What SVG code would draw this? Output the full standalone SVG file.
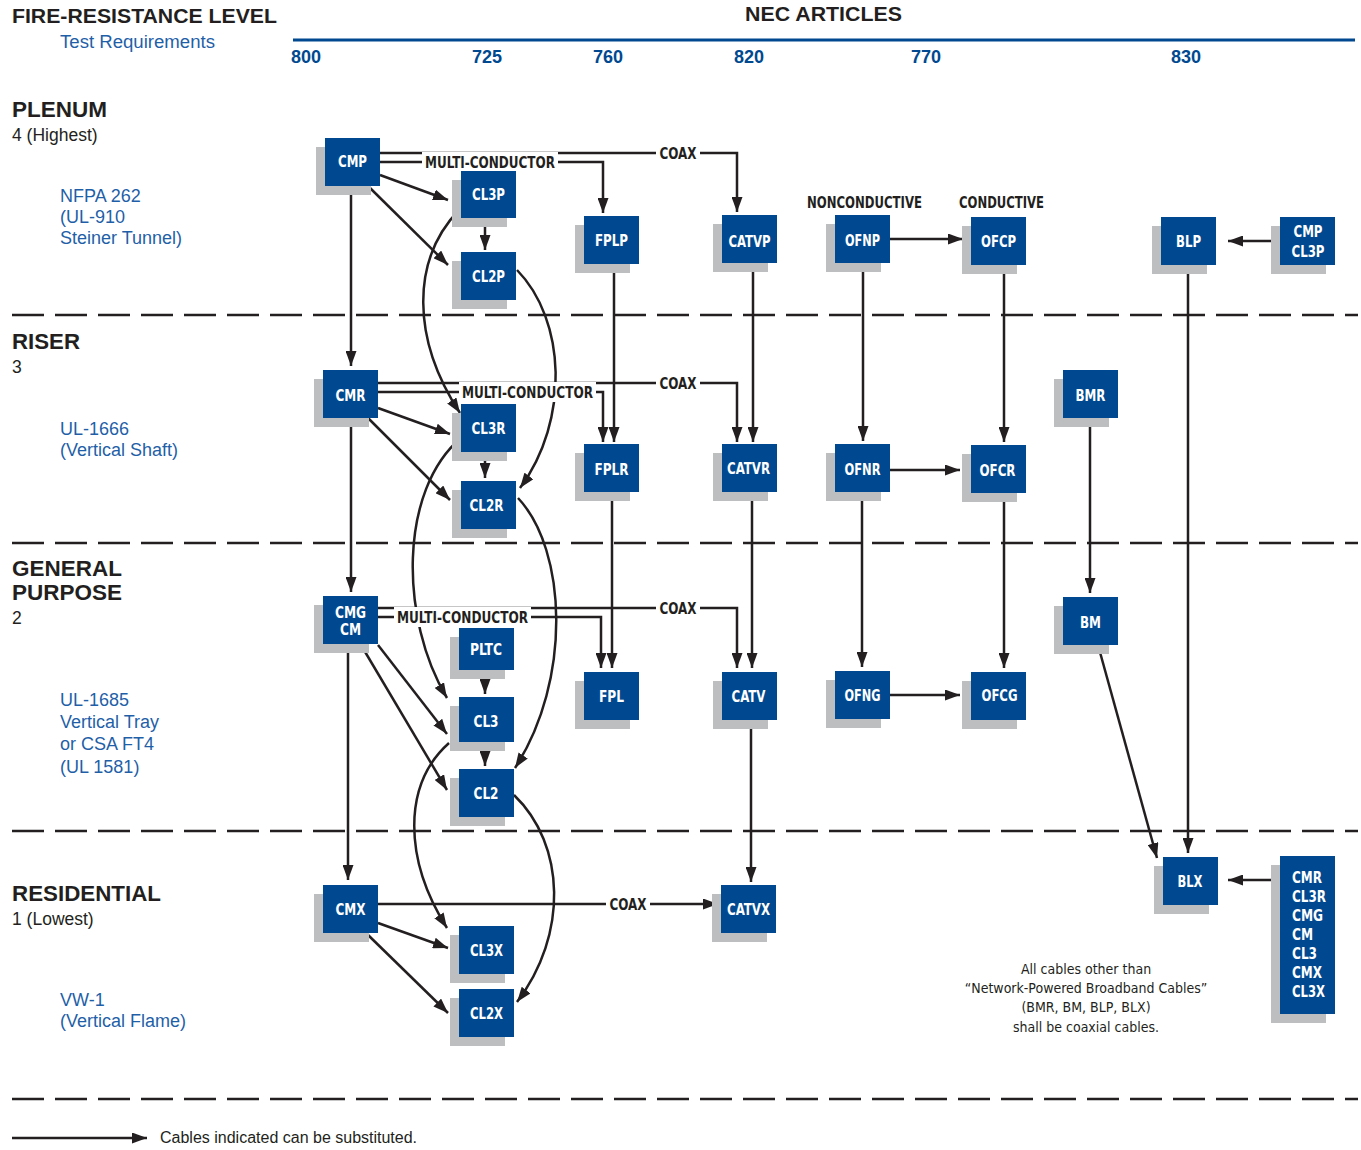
<svg xmlns="http://www.w3.org/2000/svg" width="1361" height="1150" viewBox="0 0 1361 1150">
<defs>
<marker id="ah" markerUnits="userSpaceOnUse" markerWidth="15" markerHeight="11" refX="15" refY="5.5" orient="auto">
<path d="M0,0 L15,5.5 L0,11 Z" fill="#231f20"/>
</marker>
<style>
.sh{fill:#bcbec0}
.bx{fill:#004990}
.bt{font-family:"Liberation Sans Narrow","DejaVu Sans Condensed","Liberation Sans",sans-serif;font-weight:bold;font-size:16px;fill:#fff;text-anchor:middle}
.bts{font-family:"Liberation Sans Narrow","DejaVu Sans Condensed","Liberation Sans",sans-serif;font-weight:bold;font-size:16px;fill:#fff;text-anchor:start}
.ar{fill:none;stroke:#231f20;stroke-width:2.5;marker-end:url(#ah)}
.dash{fill:none;stroke:#231f20;stroke-width:2.5;stroke-dasharray:32 11}
.lbl{font-family:"Liberation Sans Narrow","DejaVu Sans Condensed","Liberation Sans",sans-serif;font-weight:bold;font-size:15.5px;fill:#231f20;text-anchor:middle}
.h1{font-family:"Liberation Sans",Arial,sans-serif;font-weight:bold;font-size:21px;fill:#231f20}
.h3{font-family:"Liberation Sans",Arial,sans-serif;font-weight:bold;font-size:22px;fill:#231f20}
.h2{font-family:"Liberation Sans",Arial,sans-serif;font-size:17.5px;fill:#231f20}
.bl{font-family:"Liberation Sans",Arial,sans-serif;font-size:18px;fill:#1f5fa8}
.col{font-family:"Liberation Sans",Arial,sans-serif;font-weight:bold;font-size:18px;fill:#004990;text-anchor:middle}
.note{font-family:"Liberation Sans Narrow","DejaVu Sans Condensed","Liberation Sans",sans-serif;font-size:14px;fill:#231f20;text-anchor:middle}
</style>
</defs>
<rect width="1361" height="1150" fill="#fff"/>

<g id="header">
<text class="h1" x="12" y="23" textLength="265" lengthAdjust="spacingAndGlyphs">FIRE-RESISTANCE LEVEL</text>
<text class="bl" x="60" y="48" textLength="155" lengthAdjust="spacingAndGlyphs">Test Requirements</text>
<text class="h1" x="745" y="21" textLength="157" lengthAdjust="spacingAndGlyphs">NEC ARTICLES</text>
<line x1="293" y1="40" x2="1355" y2="40" stroke="#004990" stroke-width="3"/>
<text class="col" x="306" y="63">800</text>
<text class="col" x="487" y="63">725</text>
<text class="col" x="608" y="63">760</text>
<text class="col" x="749" y="63">820</text>
<text class="col" x="926" y="63">770</text>
<text class="col" x="1186" y="63">830</text>
</g>

<g id="levels">
<text class="h3" x="12" y="117" textLength="95" lengthAdjust="spacingAndGlyphs">PLENUM</text>
<text class="h2" x="12" y="141">4 (Highest)</text>
<text class="bl" x="60" y="202">NFPA 262</text>
<text class="bl" x="60" y="223">(UL-910</text>
<text class="bl" x="60" y="244">Steiner Tunnel)</text>
<text class="h3" x="12" y="349" textLength="68" lengthAdjust="spacingAndGlyphs">RISER</text>
<text class="h2" x="12" y="373">3</text>
<text class="bl" x="60" y="435">UL-1666</text>
<text class="bl" x="60" y="456">(Vertical Shaft)</text>
<text class="h3" x="12" y="576" font-size="20" textLength="110" lengthAdjust="spacingAndGlyphs">GENERAL</text>
<text class="h3" x="12" y="600" font-size="20" textLength="110" lengthAdjust="spacingAndGlyphs">PURPOSE</text>
<text class="h2" x="12" y="624">2</text>
<text class="bl" x="60" y="706">UL-1685</text>
<text class="bl" x="60" y="728">Vertical Tray</text>
<text class="bl" x="60" y="750">or CSA FT4</text>
<text class="bl" x="60" y="773">(UL 1581)</text>
<text class="h3" x="12" y="901" textLength="149" lengthAdjust="spacingAndGlyphs">RESIDENTIAL</text>
<text class="h2" x="12" y="925">1 (Lowest)</text>
<text class="bl" x="60" y="1006">VW-1</text>
<text class="bl" x="60" y="1027">(Vertical Flame)</text>
</g>

<g id="dividers">
<line class="dash" x1="12" y1="315" x2="1358" y2="315"/>
<line class="dash" x1="12" y1="543" x2="1358" y2="543"/>
<line class="dash" x1="12" y1="831" x2="1358" y2="831"/>
<line class="dash" x1="12" y1="1099" x2="1358" y2="1099"/>
</g>

<g id="connectors">
<path class="ar" d="M380,153 H737 V212"/>
<path class="ar" d="M380,162 H603 V213"/>
<path class="ar" d="M380,175 L448,200"/>
<path class="ar" d="M368,186 L448,265"/>
<path class="ar" d="M485,218 V250"/>
<path class="ar" d="M351,186 V366"/>
<path class="ar" d="M460,209 C410,260 412,340 460,413"/>
<path class="ar" d="M517,270 C566,320 570,420 520,488"/>
<path class="ar" d="M890,239 H963"/>
<path class="ar" d="M1280,241 H1228"/>
<path class="ar" d="M614,264 V442"/>
<path class="ar" d="M753,263 V442"/>
<path class="ar" d="M863,263 V441"/>
<path class="ar" d="M1004,265 V442"/>
<path class="ar" d="M1188,265 V853"/>
<path class="ar" d="M378,383 H737 V442"/>
<path class="ar" d="M378,392 H603 V442"/>
<path class="ar" d="M378,408 L450,434"/>
<path class="ar" d="M368,418 L450,500"/>
<path class="ar" d="M485,452 V478"/>
<path class="ar" d="M351,418 V592"/>
<path class="ar" d="M462,437 C398,490 400,620 447,698"/>
<path class="ar" d="M518,498 C567,550 572,680 515,768"/>
<path class="ar" d="M890,470 H960"/>
<path class="ar" d="M612,492 V668"/>
<path class="ar" d="M752,492 V668"/>
<path class="ar" d="M862,492 V667"/>
<path class="ar" d="M1004,493 V668"/>
<path class="ar" d="M1090,418 V593"/>
<path class="ar" d="M378,608 H737 V668"/>
<path class="ar" d="M378,617 H601 V668"/>
<path class="ar" d="M378,645 L447,734"/>
<path class="ar" d="M361,645 L447,790"/>
<path class="ar" d="M485,670 V694"/>
<path class="ar" d="M485,742 V766"/>
<path class="ar" d="M348,644 V880"/>
<path class="ar" d="M449,743 C402,785 404,860 447,928"/>
<path class="ar" d="M514,795 C566,845 568,935 517,1002"/>
<path class="ar" d="M890,695 H960"/>
<path class="ar" d="M751,720 V882"/>
<path class="ar" d="M1098,645 L1157,858"/>
<path class="ar" d="M378,904 H718"/>
<path class="ar" d="M378,923 L448,948"/>
<path class="ar" d="M366,933 L448,1013"/>
<path class="ar" d="M1280,880 H1228"/>
</g>

<g id="route-labels">
<rect x="656" y="143" width="44" height="20" fill="#fff"/>
<text class="lbl" x="678" y="159" textLength="37" lengthAdjust="spacingAndGlyphs">COAX</text>
<rect x="422" y="152" width="136" height="20" fill="#fff"/>
<text class="lbl" x="490" y="168" textLength="130" lengthAdjust="spacingAndGlyphs">MULTI-CONDUCTOR</text>
<rect x="656" y="373" width="44" height="20" fill="#fff"/>
<text class="lbl" x="678" y="389" textLength="37" lengthAdjust="spacingAndGlyphs">COAX</text>
<rect x="459" y="382" width="137" height="20" fill="#fff"/>
<text class="lbl" x="527.5" y="398" textLength="131" lengthAdjust="spacingAndGlyphs">MULTI-CONDUCTOR</text>
<rect x="656" y="598" width="44" height="20" fill="#fff"/>
<text class="lbl" x="678" y="614" textLength="37" lengthAdjust="spacingAndGlyphs">COAX</text>
<rect x="394" y="607" width="137" height="20" fill="#fff"/>
<text class="lbl" x="462.5" y="623" textLength="131" lengthAdjust="spacingAndGlyphs">MULTI-CONDUCTOR</text>
<rect x="606" y="894" width="44" height="20" fill="#fff"/>
<text class="lbl" x="628" y="910" textLength="37" lengthAdjust="spacingAndGlyphs">COAX</text>
<text class="lbl" x="864.5" y="208" textLength="115" lengthAdjust="spacingAndGlyphs">NONCONDUCTIVE</text>
<text class="lbl" x="1001.5" y="208" textLength="85" lengthAdjust="spacingAndGlyphs">CONDUCTIVE</text>
</g>

<g id="CMP"><rect class="sh" x="316" y="147" width="55" height="48"/><rect class="bx" x="325" y="138" width="55" height="48"/><text class="bt" x="352.5" y="167" textLength="29" lengthAdjust="spacingAndGlyphs">CMP</text></g>
<g id="CL3P"><rect class="sh" x="452" y="180" width="55" height="47"/><rect class="bx" x="461" y="171" width="55" height="47"/><text class="bt" x="488.5" y="200" textLength="33" lengthAdjust="spacingAndGlyphs">CL3P</text></g>
<g id="CL2P"><rect class="sh" x="452" y="261" width="55" height="48"/><rect class="bx" x="461" y="252" width="55" height="48"/><text class="bt" x="488.5" y="282" textLength="33" lengthAdjust="spacingAndGlyphs">CL2P</text></g>
<g id="FPLP"><rect class="sh" x="575" y="225" width="55" height="48"/><rect class="bx" x="584" y="216" width="55" height="48"/><text class="bt" x="611.5" y="246" textLength="33" lengthAdjust="spacingAndGlyphs">FPLP</text></g>
<g id="CATVP"><rect class="sh" x="713" y="224" width="55" height="48"/><rect class="bx" x="722" y="215" width="55" height="48"/><text class="bt" x="749.5" y="247" textLength="42" lengthAdjust="spacingAndGlyphs">CATVP</text></g>
<g id="OFNP"><rect class="sh" x="826" y="224" width="55" height="48"/><rect class="bx" x="835" y="215" width="55" height="48"/><text class="bt" x="862.5" y="246" textLength="35" lengthAdjust="spacingAndGlyphs">OFNP</text></g>
<g id="OFCP"><rect class="sh" x="962" y="226" width="55" height="48"/><rect class="bx" x="971" y="217" width="55" height="48"/><text class="bt" x="998.5" y="247" textLength="35" lengthAdjust="spacingAndGlyphs">OFCP</text></g>
<g id="BLP"><rect class="sh" x="1152" y="226" width="55" height="48"/><rect class="bx" x="1161" y="217" width="55" height="48"/><text class="bt" x="1188.5" y="247" textLength="25" lengthAdjust="spacingAndGlyphs">BLP</text></g>
<g id="CMP-CL3P"><rect class="sh" x="1271" y="226" width="55" height="48"/><rect class="bx" x="1280" y="217" width="55" height="48"/><text class="bt" x="1308" y="237" textLength="29" lengthAdjust="spacingAndGlyphs">CMP</text><text class="bt" x="1308" y="257" textLength="33" lengthAdjust="spacingAndGlyphs">CL3P</text></g>

<g id="CMR"><rect class="sh" x="314" y="379" width="55" height="48"/><rect class="bx" x="323" y="370" width="55" height="48"/><text class="bt" x="350.5" y="401" textLength="30" lengthAdjust="spacingAndGlyphs">CMR</text></g>
<g id="CL3R"><rect class="sh" x="452" y="413" width="55" height="48"/><rect class="bx" x="461" y="404" width="55" height="48"/><text class="bt" x="488.5" y="434" textLength="34" lengthAdjust="spacingAndGlyphs">CL3R</text></g>
<g id="CL2R"><rect class="sh" x="452" y="490" width="55" height="48"/><rect class="bx" x="461" y="481" width="55" height="48"/><text class="bt" x="486.5" y="511" textLength="34" lengthAdjust="spacingAndGlyphs">CL2R</text></g>
<g id="FPLR"><rect class="sh" x="575" y="453" width="55" height="48"/><rect class="bx" x="584" y="444" width="55" height="48"/><text class="bt" x="611.5" y="475" textLength="34" lengthAdjust="spacingAndGlyphs">FPLR</text></g>
<g id="CATVR"><rect class="sh" x="713" y="453" width="55" height="48"/><rect class="bx" x="722" y="444" width="55" height="48"/><text class="bt" x="748.5" y="474" textLength="43" lengthAdjust="spacingAndGlyphs">CATVR</text></g>
<g id="OFNR"><rect class="sh" x="826" y="453" width="55" height="48"/><rect class="bx" x="835" y="444" width="55" height="48"/><text class="bt" x="862.5" y="475" textLength="36" lengthAdjust="spacingAndGlyphs">OFNR</text></g>
<g id="OFCR"><rect class="sh" x="962" y="454" width="55" height="48"/><rect class="bx" x="971" y="445" width="55" height="48"/><text class="bt" x="997.5" y="476" textLength="36" lengthAdjust="spacingAndGlyphs">OFCR</text></g>
<g id="BMR"><rect class="sh" x="1054" y="379" width="55" height="48"/><rect class="bx" x="1063" y="370" width="55" height="48"/><text class="bt" x="1090.5" y="401" textLength="30" lengthAdjust="spacingAndGlyphs">BMR</text></g>

<g id="CMG-CM"><rect class="sh" x="314" y="605" width="55" height="48"/><rect class="bx" x="323" y="596" width="55" height="48"/><text class="bt" x="350.5" y="618" font-size="14" textLength="31" lengthAdjust="spacingAndGlyphs">CMG</text><text class="bt" x="350.5" y="635" font-size="14" textLength="21" lengthAdjust="spacingAndGlyphs">CM</text></g>
<g id="PLTC"><rect class="sh" x="450" y="637" width="55" height="42"/><rect class="bx" x="459" y="628" width="55" height="42"/><text class="bt" x="486" y="655" textLength="32" lengthAdjust="spacingAndGlyphs">PLTC</text></g>
<g id="CL3"><rect class="sh" x="450" y="706" width="55" height="45"/><rect class="bx" x="459" y="697" width="55" height="45"/><text class="bt" x="486" y="727" textLength="25" lengthAdjust="spacingAndGlyphs">CL3</text></g>
<g id="CL2"><rect class="sh" x="450" y="778" width="55" height="48"/><rect class="bx" x="459" y="769" width="55" height="48"/><text class="bt" x="486" y="799" textLength="25" lengthAdjust="spacingAndGlyphs">CL2</text></g>
<g id="FPL"><rect class="sh" x="575" y="681" width="55" height="48"/><rect class="bx" x="584" y="672" width="55" height="48"/><text class="bt" x="611.5" y="702" textLength="25" lengthAdjust="spacingAndGlyphs">FPL</text></g>
<g id="CATV"><rect class="sh" x="713" y="681" width="55" height="48"/><rect class="bx" x="722" y="672" width="55" height="48"/><text class="bt" x="748.5" y="702" textLength="34" lengthAdjust="spacingAndGlyphs">CATV</text></g>
<g id="OFNG"><rect class="sh" x="826" y="680" width="55" height="48"/><rect class="bx" x="835" y="671" width="55" height="48"/><text class="bt" x="862.5" y="701" textLength="36" lengthAdjust="spacingAndGlyphs">OFNG</text></g>
<g id="OFCG"><rect class="sh" x="962" y="681" width="55" height="48"/><rect class="bx" x="971" y="672" width="55" height="48"/><text class="bt" x="999.5" y="701" textLength="36" lengthAdjust="spacingAndGlyphs">OFCG</text></g>
<g id="BM"><rect class="sh" x="1054" y="606" width="55" height="48"/><rect class="bx" x="1063" y="597" width="55" height="48"/><text class="bt" x="1090.5" y="628" textLength="21" lengthAdjust="spacingAndGlyphs">BM</text></g>

<g id="CMX"><rect class="sh" x="314" y="894" width="55" height="48"/><rect class="bx" x="323" y="885" width="55" height="48"/><text class="bt" x="350.5" y="915" textLength="30" lengthAdjust="spacingAndGlyphs">CMX</text></g>
<g id="CL3X"><rect class="sh" x="450" y="935" width="55" height="48"/><rect class="bx" x="459" y="926" width="55" height="48"/><text class="bt" x="486.5" y="956" textLength="33" lengthAdjust="spacingAndGlyphs">CL3X</text></g>
<g id="CL2X"><rect class="sh" x="450" y="998" width="55" height="48"/><rect class="bx" x="459" y="989" width="55" height="48"/><text class="bt" x="486.5" y="1019" textLength="33" lengthAdjust="spacingAndGlyphs">CL2X</text></g>
<g id="CATVX"><rect class="sh" x="712" y="894" width="55" height="48"/><rect class="bx" x="721" y="885" width="55" height="48"/><text class="bt" x="748.5" y="915" textLength="43" lengthAdjust="spacingAndGlyphs">CATVX</text></g>
<g id="BLX"><rect class="sh" x="1154" y="866" width="55" height="48"/><rect class="bx" x="1163" y="857" width="55" height="48"/><text class="bt" x="1190" y="887" textLength="25" lengthAdjust="spacingAndGlyphs">BLX</text></g>
<g id="SUBST"><rect class="sh" x="1271" y="865" width="55" height="158"/><rect class="bx" x="1280" y="856" width="55" height="158"/>
<text class="bts" x="1292" y="883" textLength="30" lengthAdjust="spacingAndGlyphs">CMR</text>
<text class="bts" x="1292" y="902" textLength="34" lengthAdjust="spacingAndGlyphs">CL3R</text>
<text class="bts" x="1292" y="921" textLength="31" lengthAdjust="spacingAndGlyphs">CMG</text>
<text class="bts" x="1292" y="940" textLength="21" lengthAdjust="spacingAndGlyphs">CM</text>
<text class="bts" x="1292" y="959" textLength="25" lengthAdjust="spacingAndGlyphs">CL3</text>
<text class="bts" x="1292" y="978" textLength="30" lengthAdjust="spacingAndGlyphs">CMX</text>
<text class="bts" x="1292" y="997" textLength="33" lengthAdjust="spacingAndGlyphs">CL3X</text>
</g>

<g id="note">
<text class="note" x="1086" y="974">All cables other than</text>
<text class="note" x="1086" y="993">“Network-Powered Broadband Cables”</text>
<text class="note" x="1086" y="1012">(BMR, BM, BLP, BLX)</text>
<text class="note" x="1086" y="1032">shall be coaxial cables.</text>
</g>

<g id="legend">
<path class="ar" d="M12,1138 H147"/>
<text x="160" y="1143" font-family="Liberation Sans, Arial, sans-serif" font-size="16" fill="#231f20">Cables indicated can be substituted.</text>
</g>
</svg>
